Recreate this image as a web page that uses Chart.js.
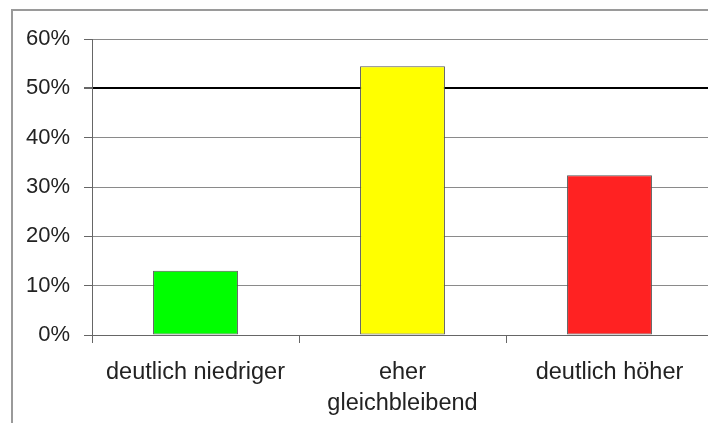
<!DOCTYPE html>
<html>
<head>
<meta charset="utf-8">
<script src="https://cdn.jsdelivr.net/npm/chart.js@4"></script>
<style>
  html, body { margin: 0; padding: 0; width: 708px; height: 423px; overflow: hidden; background: #fff; }
  #frame { position: absolute; left: 11px; top: 9px; width: 800px; height: 500px;
           border-top: 2px solid #9a9a9a; border-left: 2px solid #9a9a9a; }
  #wrap { position: absolute; left: 0; top: 0; width: 717px; height: 423px; }
</style>
</head>
<body>
<div id="frame"></div>
<div id="wrap"><canvas id="c"></canvas></div>
<script>
// Erwartete Entwicklung – Anteile in Prozent
const categories = [["deutlich niedriger"], ["eher", "gleichbleibend"], ["deutlich höher"]];
const shares = [13, 54.5, 32.4];
const barColors = ["#00ff00", "#ffff00", "#ff2222"];
const yTicks = [0, 10, 20, 30, 40, 50, 60];

const FONT = "'Liberation Sans', Arial, sans-serif";

new Chart(document.getElementById("c"), {
  type: "bar",
  data: {
    labels: categories,
    datasets: [{
      data: shares,
      backgroundColor: barColors,
      borderColor: "#555",
      borderWidth: 1,
      borderSkipped: false,
      barPercentage: 0.41,
      categoryPercentage: 1.0
    }]
  },
  options: {
    responsive: true,
    maintainAspectRatio: false,
    animation: false,
    layout: { padding: { top: 39, right: 4, left: 0, bottom: 0 } },
    plugins: { legend: { display: false }, tooltip: { enabled: false } },
    scales: {
      y: {
        min: 0,
        max: 60,
        afterBuildTicks: (scale) => { scale.ticks = yTicks.map(v => ({ value: v })); },
        afterFit: (scale) => { scale.width = 92; },
        ticks: {
          callback: (v) => v + "%",
          color: "#222",
          font: { family: FONT, size: 22 },
          padding: 14
        },
        grid: {
          color: (ctx) => ctx.tick && ctx.tick.value === 50 ? "#000" : "#8a8a8a",
          lineWidth: (ctx) => ctx.tick && ctx.tick.value === 50 ? 2 : 1,
          tickLength: 8,
          tickColor: "#666"
        },
        border: { display: true, color: "#666", width: 1 }
      },
      x: {
        afterFit: (scale) => { scale.height = 88; },
        ticks: {
          color: "#222",
          font: { family: FONT, size: 23.5, lineHeight: 1.32 },
          padding: 14,
          maxRotation: 0,
          autoSkip: false
        },
        grid: {
          offset: true,
          drawOnChartArea: false,
          tickLength: 8,
          tickColor: "#666"
        },
        border: { display: true, color: "#666", width: 1 }
      }
    }
  }
});
</script>
</body>
</html>
